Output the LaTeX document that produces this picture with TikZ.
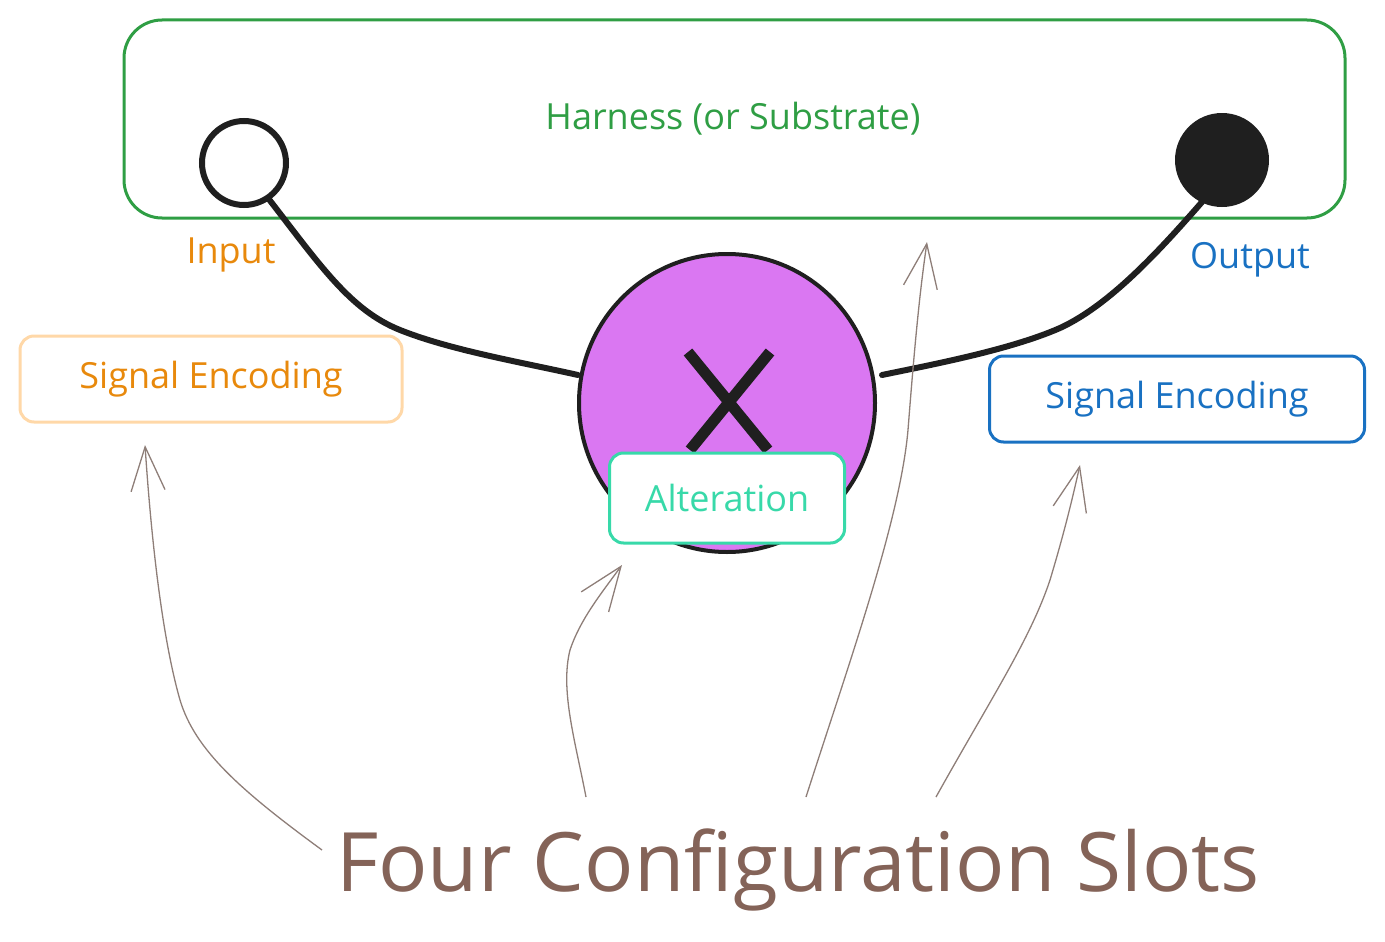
\documentclass[tikz,border=0pt]{standalone}
\usepackage{fontspec}
\setmainfont{Open Sans}
\usetikzlibrary{shapes.geometric,arrows.meta}
\begin{document}
\begin{tikzpicture}[x=1pt,y=-1pt,
  lbl/.style={font=\fontsize{36}{42}\selectfont},
  box/.style={draw,line width=3pt,rounded corners=14pt,fill=white},
  wire/.style={line width=6pt,draw=black!88,line cap=round},
  slot/.style={draw=sl,line width=1.3pt,-{Straight Barb[length=44pt,width=34pt,line width=1.3pt]}}]
\useasboundingbox (0,0) rectangle (1385,942);
\definecolor{hg}{HTML}{2F9E44}\definecolor{io}{HTML}{E8890C}\definecolor{ob}{HTML}{1971C2}
\definecolor{pu}{HTML}{DA77F2}\definecolor{tl}{HTML}{38D9A9}\definecolor{lo}{HTML}{FFD8A8}
\definecolor{br}{HTML}{846358}\definecolor{sl}{HTML}{8E7E78}
\node[draw=hg,line width=3pt,rounded corners=38pt,minimum width=1221pt,minimum height=198pt] (harness) at (734.5,119) {};
\node[lbl,text=hg] (htext) at (733,119) {Harness (or Substrate)};
\node[circle,draw=black!88,line width=6pt,fill=white,minimum size=84pt] (in) at (244,163) {};
\node[circle,fill=black!88,minimum size=94pt] (out) at (1222,160) {};
\node[lbl,text=io] (inl) at (231,255) {Input};
\node[lbl,text=ob] (outl) at (1250,260) {Output};
\node[ellipse,draw=black!88,line width=4pt,fill=pu,minimum width=296pt,minimum height=298pt,inner sep=0] (x) at (727,403) {};
\coordinate (a1) at (688,352);\coordinate (a2) at (768,450);
\coordinate (b1) at (770,352);\coordinate (b2) at (690,450);
\draw[line width=11pt,black!88] (a1)--(a2) (b1)--(b2);
\node[box,draw=tl,minimum width=235pt,minimum height=90pt,lbl,text=tl] (alt) at (727,498) {Alteration};
\node[box,draw=lo,minimum width=382pt,minimum height=86pt,lbl,text=io] (sl) at (211,379) {Signal Encoding};
\node[box,draw=ob,minimum width=375pt,minimum height=86pt,lbl,text=ob] (sr) at (1177,399) {Signal Encoding};
\coordinate (w1) at (268,198);\coordinate (w2) at (578,375);
\coordinate (w3) at (1202,202);\coordinate (w4) at (882,375);
\draw[wire] (w1) .. controls (320,265) and (350,310) .. (400,330) .. controls (450,350) and (520,362) .. (w2);
\draw[wire] (w3) .. controls (1160,250) and (1110,305) .. (1060,328) .. controls (1010,350) and (930,365) .. (w4);
\node[text=br,font=\fontsize{82}{92}\selectfont] (four) at (798,870) {Four Configuration Slots};
\coordinate (s1) at (322,850);\coordinate (e1) at (145,445);
\coordinate (s2) at (586,797);\coordinate (e2) at (622,565);
\coordinate (s3) at (806,797);\coordinate (e3) at (927,242);
\coordinate (s4) at (936,797);\coordinate (e4) at (1080,465);
\draw[slot] (s1) .. controls (240,790) and (195,750) .. (180,700) .. controls (160,630) and (150,520) .. (e1);
\draw[slot] (s2) .. controls (575,740) and (560,690) .. (570,650) .. controls (580,620) and (600,595) .. (e2);
\draw[slot] (s3) .. controls (850,660) and (900,520) .. (908,430) .. controls (915,340) and (920,290) .. (e3);
\draw[slot] (s4) .. controls (990,700) and (1030,640) .. (1050,580) .. controls (1065,530) and (1072,500) .. (e4);
\end{tikzpicture}
\end{document}
